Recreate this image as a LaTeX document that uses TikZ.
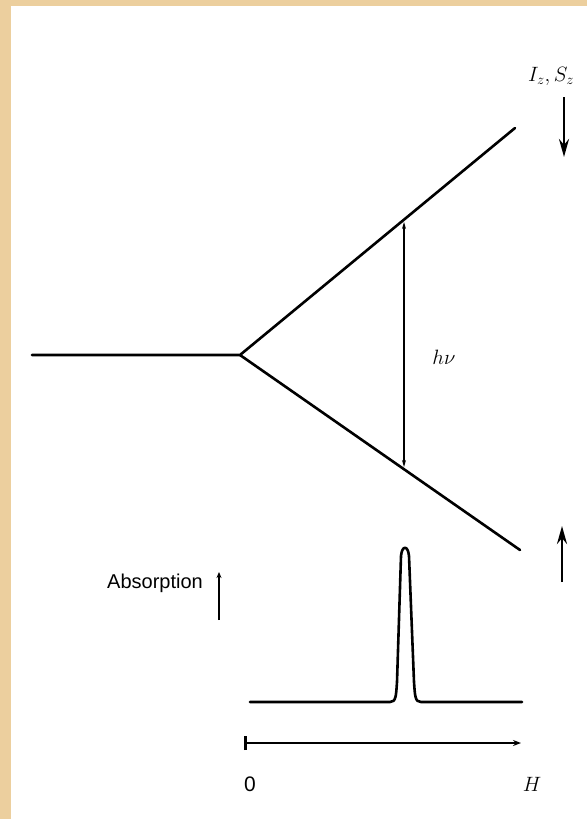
\documentclass[tikz,border=0pt]{standalone}
\usepackage{fontspec}
\setsansfont{Liberation Sans}
\usetikzlibrary{arrows.meta}
\definecolor{tan}{HTML}{ECCF9E}
\tikzset{
  ln/.style={line width=2.6pt, line cap=round, line join=round},
  thin/.style={line width=1.6pt},
  lbl/.style={inner sep=0pt, font=\fontsize{21}{24}\selectfont}
}
\begin{document}
\begin{tikzpicture}[x=1pt,y=-1pt]
\useasboundingbox (0,0) rectangle (587,819);
\fill[tan] (0,0) rectangle (587,819);
\fill[white] (11,6) rectangle (587,819);
% Zeeman levels
\coordinate (L) at (32,355);
\coordinate (O) at (240,355);
\coordinate (U) at (515,128);
\coordinate (D) at (520,550);
\draw[ln] (L) -- (O) -- (U);
\draw[ln] (O) -- (D);
% h nu transition
\coordinate (T1) at (404,222);
\coordinate (T2) at (404,467);
\draw[thin, {Stealth[length=7pt,width=4pt]}-{Stealth[length=7pt,width=4pt]}] (T1) -- (T2);
\node[lbl] (hv) at (444,357) {$h\nu$};
% spin labels and arrows
\node[lbl] (IS) at (551,76) {$I_z,S_z$};
\coordinate (a1) at (564,97);
\coordinate (a2) at (564,157);
\draw[line width=2.6pt, -{Stealth[length=18pt,width=10pt]}] (a1) -- (a2);
\coordinate (b1) at (562,582);
\coordinate (b2) at (562,526);
\draw[line width=2.6pt, -{Stealth[length=18pt,width=10pt]}] (b1) -- (b2);
% absorption
\node[lbl, font=\sffamily\fontsize{20}{24}\selectfont] (abs) at (155,583) {Absorption};
\coordinate (c1) at (219,620);
\coordinate (c2) at (219,572);
\draw[line width=2.4pt, -{Stealth[length=6pt,width=5pt]}] (c1) -- (c2);
% absorption line
\coordinate (s0) at (250,702);
\coordinate (s1) at (522,702);
\draw[ln] (s0) -- (390,702) .. controls (396,702) and (396,696) .. (397,682)
  -- (401,556) .. controls (402,545) and (408,545) .. (409,556)
  -- (414,682) .. controls (415,696) and (415,702) .. (421,702) -- (s1);
% field axis
\coordinate (h0) at (244,743);
\coordinate (h1) at (521,743);
\draw[ln, {Bar[width=14pt]}-{Stealth[length=8pt,width=6pt]}] (h0) -- (h1);
\node[lbl, font=\sffamily\fontsize{21}{24}\selectfont] (zero) at (250,784) {0};
\node[lbl] (H) at (532,784) {$H$};
\end{tikzpicture}
\end{document}
